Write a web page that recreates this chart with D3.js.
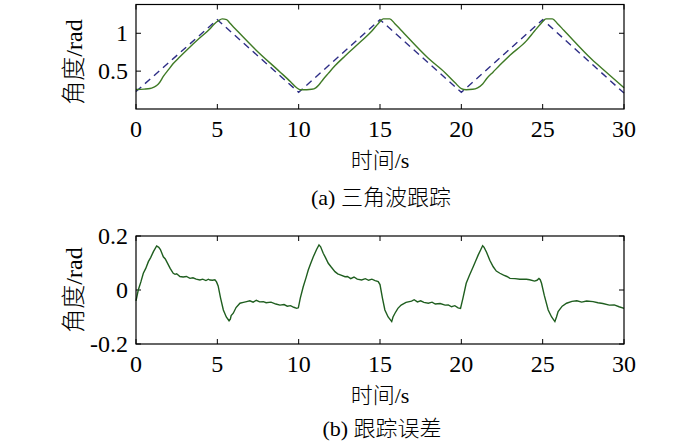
<!DOCTYPE html>
<html><head><meta charset="utf-8">
<script src="https://cdn.jsdelivr.net/npm/d3@7"></script>
<style>
html,body{margin:0;padding:0;background:#fff;}
text, tspan.lat{font-family:"Liberation Serif","Times New Roman",Times,serif;fill:#000;}
tspan.cjk{font-family:"Noto Sans CJK SC Light","Noto Sans CJK SC","Noto Sans CJK JP",sans-serif;font-weight:300;}
</style></head>
<body><svg id="c" width="700" height="447"></svg>
<script>
// ---- data ----
const xTicks = [0,5,10,15,20,25,30];
const topYTicks = [0.5,1];
const botYTicks = [-0.2,0,0.2];
const yLabel = "角度/rad";
const xLabel = "时间/s";
const captionA = "(a) 三角波跟踪";
const captionB = "(b) 跟踪误差";

const refTime  = [0,5,10,15,20,25,30];
const refAngle = [0.23,1.18,0.22,1.18,0.22,1.18,0.21];

const actTime = [0,0.5,0.86,1.1,1.27,1.45,1.68,2.0,2.29,2.7,3.32,3.93,4.55,4.8,5.06,5.3,5.57,5.75,5.88,6.19,7.42,8.85,9.5,9.88,10.1,10.5,10.8,11.05,11.25,11.5,11.82,12.23,12.85,13.87,14.5,14.9,15.2,15.6,15.9,16.3,17.97,19.0,19.6,20.0,20.3,20.7,21.0,21.31,21.55,21.96,22.37,22.99,24.0,24.5,24.9,25.2,25.6,25.9,26.3,28.0,29.0,30];
const actAngle = [0.257,0.262,0.27,0.29,0.31,0.35,0.43,0.52,0.6,0.69,0.82,0.94,1.06,1.12,1.165,1.19,1.18,1.14,1.11,1.04,0.77,0.49,0.36,0.28,0.255,0.255,0.26,0.28,0.32,0.39,0.47,0.57,0.7,0.9,1.03,1.13,1.19,1.19,1.13,1.04,0.67,0.48,0.35,0.27,0.255,0.26,0.28,0.33,0.4,0.49,0.58,0.71,0.9,1.03,1.13,1.19,1.19,1.13,1.04,0.66,0.47,0.28];

const errTime = [0,0.14,0.3,0.45,0.6,0.76,0.9,1.07,1.27,1.4,1.5,1.68,1.8,1.99,2.1,2.29,2.4,2.5,2.7,2.9,3.1,3.32,3.5,3.7,3.93,4.1,4.3,4.45,4.55,4.7,4.85,4.95,5.05,5.2,5.37,5.55,5.72,5.8,5.85,5.98,6.15,6.39,6.6,6.8,7.0,7.2,7.4,7.6,7.83,8.0,8.3,8.6,8.85,9.1,9.3,9.5,9.7,9.88,9.98,
 10.1,10.28,10.45,10.59,10.75,10.9,11.1,11.25,11.35,11.51,11.65,11.82,12.0,12.23,12.4,12.6,12.85,13.0,13.2,13.4,13.6,13.87,14.1,14.3,14.5,14.7,14.89,15.0,15.15,15.3,15.5,15.72,15.8,15.92,16.1,16.3,16.6,16.94,17.1,17.3,17.5,17.7,17.97,18.2,18.4,18.7,19.0,19.2,19.4,19.6,19.8,19.95,
 20.1,20.3,20.5,20.73,20.9,21.04,21.2,21.31,21.4,21.55,21.75,21.96,22.15,22.37,22.6,22.8,22.99,23.3,23.6,24.0,24.2,24.5,24.65,24.77,24.85,24.93,25.1,25.34,25.55,25.75,25.85,25.95,26.2,26.47,26.8,27.1,27.4,27.7,28.1,28.4,28.7,29.1,29.4,29.7,30];
const errVal = [-0.04,0.0,0.03,0.062,0.08,0.105,0.12,0.142,0.163,0.158,0.15,0.123,0.115,0.093,0.08,0.062,0.058,0.06,0.05,0.048,0.05,0.043,0.045,0.04,0.037,0.04,0.035,0.04,0.037,0.036,0.038,0.03,0.015,-0.03,-0.074,-0.1,-0.114,-0.108,-0.095,-0.086,-0.065,-0.049,-0.046,-0.043,-0.04,-0.045,-0.038,-0.044,-0.043,-0.047,-0.045,-0.052,-0.056,-0.054,-0.06,-0.058,-0.064,-0.068,-0.066,
 -0.03,0.012,0.045,0.074,0.1,0.123,0.15,0.167,0.16,0.136,0.12,0.099,0.085,0.068,0.06,0.055,0.049,0.05,0.042,0.048,0.04,0.037,0.042,0.036,0.04,0.035,0.031,0.02,-0.03,-0.074,-0.1,-0.117,-0.1,-0.086,-0.068,-0.056,-0.046,-0.041,-0.036,-0.044,-0.04,-0.046,-0.049,-0.045,-0.052,-0.05,-0.056,-0.055,-0.062,-0.058,-0.066,-0.068,
 -0.03,0.025,0.055,0.086,0.11,0.13,0.15,0.164,0.158,0.14,0.11,0.086,0.07,0.062,0.055,0.05,0.043,0.042,0.04,0.04,0.038,0.033,0.036,0.043,0.038,0.025,-0.02,-0.074,-0.1,-0.117,-0.1,-0.08,-0.06,-0.049,-0.042,-0.04,-0.045,-0.041,-0.043,-0.047,-0.05,-0.056,-0.055,-0.062,-0.068];

// ---- drawing ----
const svg = d3.select("#c");
const X0 = 136, X1 = 624;
const x = d3.scaleLinear().domain([0,30]).range([X0,X1]);

// mixed CJK / Latin text, separate font per run
function mixed(sel, str){
  const runs = str.match(/[\u3000-\u9fff]+|[^\u3000-\u9fff]+/g);
  runs.forEach(r=>{
    sel.append("tspan").attr("class", /[\u3000-\u9fff]/.test(r) ? "cjk" : "lat").text(r);
  });
  return sel;
}

function panel(top, bottom, yDomain, yTicks, tickFmt){
  const y = d3.scaleLinear().domain(yDomain).range([bottom, top]);
  const g = svg.append("g");
  const tl = 5;
  xTicks.forEach(t=>{
    g.append("line").attr("x1",x(t)).attr("x2",x(t)).attr("y1",bottom).attr("y2",bottom-tl).attr("stroke","#000");
    g.append("line").attr("x1",x(t)).attr("x2",x(t)).attr("y1",top).attr("y2",top+tl).attr("stroke","#000");
    g.append("text").attr("x",x(t)).attr("y",bottom+28).attr("text-anchor","middle").attr("font-size",24).text(t);
  });
  yTicks.forEach(v=>{
    g.append("line").attr("x1",X0).attr("x2",X0+tl).attr("y1",y(v)).attr("y2",y(v)).attr("stroke","#000");
    g.append("line").attr("x1",X1).attr("x2",X1-tl).attr("y1",y(v)).attr("y2",y(v)).attr("stroke","#000");
    g.append("text").attr("x",X0-8).attr("y",y(v)+8).attr("text-anchor","end").attr("font-size",24).text(tickFmt(v));
  });
  return {g,y};
}

// top panel
const P1 = panel(4.5,109,[0,1.38],topYTicks,v=>String(v));
P1.g.append("path")
  .datum(refTime.map((t,i)=>[t,refAngle[i]]))
  .attr("d",d3.line().x(d=>x(d[0])).y(d=>P1.y(d[1])))
  .attr("fill","none").attr("stroke","#2e2e86").attr("stroke-width",1.4).attr("stroke-dasharray","7,5");
P1.g.append("path")
  .datum(actTime.map((t,i)=>[t,actAngle[i]]))
  .attr("d",d3.line().curve(d3.curveMonotoneX).x(d=>x(d[0])).y(d=>P1.y(d[1])))
  .attr("fill","none").attr("stroke","#3f7a25").attr("stroke-width",1.4);
P1.g.append("rect").attr("x",X0).attr("y",4.5).attr("width",X1-X0).attr("height",109-4.5).attr("fill","none").attr("stroke","#000").attr("stroke-width",1.2);

mixed(svg.append("text").attr("transform","translate(82,62) rotate(-90)").attr("text-anchor","middle").attr("font-size",24), yLabel);
mixed(svg.append("text").attr("x",380).attr("y",168).attr("text-anchor","middle").attr("font-size",22), xLabel);
mixed(svg.append("text").attr("x",381).attr("y",205).attr("text-anchor","middle").attr("font-size",22), captionA);

// bottom panel
const P2 = panel(236,344,[-0.2,0.2],botYTicks,v=>v===0?"0":String(v));
P2.g.append("path")
  .datum(errTime.map((t,i)=>[t,errVal[i]]))
  .attr("d",d3.line().x(d=>x(d[0])).y(d=>P2.y(d[1])))
  .attr("fill","none").attr("stroke","#1f5e1f").attr("stroke-width",1.4);
P2.g.append("rect").attr("x",X0).attr("y",236).attr("width",X1-X0).attr("height",344-236).attr("fill","none").attr("stroke","#000").attr("stroke-width",1.2);

mixed(svg.append("text").attr("transform","translate(82,290) rotate(-90)").attr("text-anchor","middle").attr("font-size",24), yLabel);
mixed(svg.append("text").attr("x",380).attr("y",403).attr("text-anchor","middle").attr("font-size",22), xLabel);
mixed(svg.append("text").attr("x",382).attr("y",436).attr("text-anchor","middle").attr("font-size",22), captionB);
</script></body></html>
